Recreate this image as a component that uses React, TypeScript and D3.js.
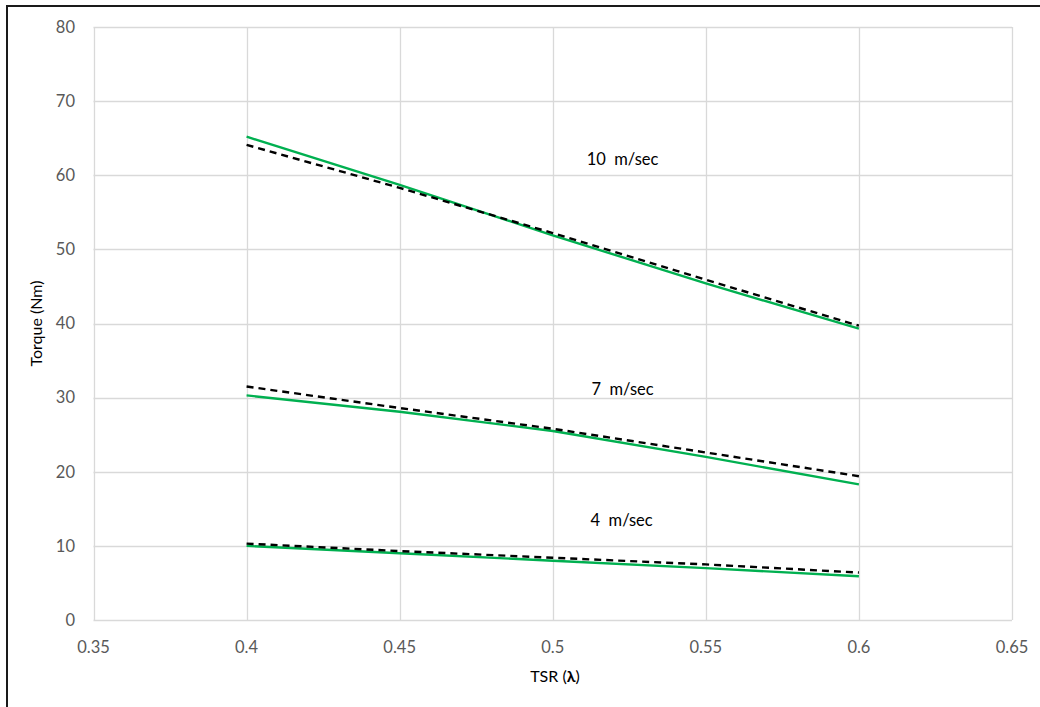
import React from "react";
import * as d3 from "d3";

const tsr = [0.4, 0.45, 0.5, 0.55, 0.6];
const green10 = [65.2, 58.7, 51.9, 45.4, 39.3];
const black10 = [64.1, 58.3, 52.2, 45.9, 39.7];
const green7 = [30.3, 28.1, 25.5, 22.0, 18.3];
const black7 = [31.5, 28.6, 25.8, 22.6, 19.4];
const green4 = [10.0, 9.0, 8.0, 7.0, 5.9];
const black4 = [10.3, 9.3, 8.4, 7.5, 6.4];
const xTicks = [0.35, 0.4, 0.45, 0.5, 0.55, 0.6, 0.65];
const yTicks = [0, 10, 20, 30, 40, 50, 60, 70, 80];
const labels = [
  { text: "10  m/sec", x: 0.5228, y: 62.2 },
  { text: "7  m/sec", x: 0.5228, y: 31.1 },
  { text: "4  m/sec", x: 0.5225, y: 13.5 },
];

const W = 1040;
const H = 707;

export default function App() {
  const x = d3.scaleLinear().domain([0.35, 0.65]).range([93.5, 1012]);
  const y = d3.scaleLinear().domain([0, 80]).range([620, 27]);
  const line = d3
    .line<[number, number]>()
    .x((d) => x(d[0]))
    .y((d) => y(d[1]));
  const mk = (vals: number[]) => line(tsr.map((t, i) => [t, vals[i]] as [number, number])) || "";
  const greens = [green10, green7, green4];
  const blacks = [black10, black7, black4];
  const font = "Lato, 'Open Sans', sans-serif";
  return (
    <svg
      width={W}
      height={H}
      style={{ position: "absolute", left: 0, top: 0, display: "block", background: "#fff" }}
    >
      <rect x={0} y={0} width={W} height={H} fill="#fff" />
      <rect x={7} y={6} width={W + 20} height={H + 20} fill="none" stroke="#1a1a1a" strokeWidth={2} />
      {yTicks.map((t) => (
        <line key={"gy" + t} x1={x(0.35)} x2={x(0.65)} y1={Math.round(y(t)) + 0.5} y2={Math.round(y(t)) + 0.5} stroke="#d9d9d9" strokeWidth={1.3} />
      ))}
      {xTicks.map((t) => (
        <line key={"gx" + t} x1={Math.round(x(t)) + 0.5} x2={Math.round(x(t)) + 0.5} y1={y(0)} y2={y(80)} stroke="#d9d9d9" strokeWidth={1.3} />
      ))}
      {yTicks.map((t) => (
        <text key={"ty" + t} x={75} y={y(t)} dy="0.35em" textAnchor="end" fontFamily={font} fontSize={16.5} fill="#595959">
          {t}
        </text>
      ))}
      {xTicks.map((t) => (
        <text key={"tx" + t} x={x(t)} y={647} dy="0.35em" textAnchor="middle" fontFamily={font} fontSize={16.5} fill="#595959">
          {String(t)}
        </text>
      ))}
      {greens.map((g, i) => (
        <path key={"g" + i} d={mk(g)} fill="none" stroke="#00b050" strokeWidth={2.4} />
      ))}
      {blacks.map((b, i) => (
        <path key={"b" + i} d={mk(b)} fill="none" stroke="#000" strokeWidth={2.4} strokeDasharray="7,5" />
      ))}
      {labels.map((l) => (
        <text key={l.text} x={x(l.x)} y={y(l.y)} dy="0.35em" textAnchor="middle" fontFamily={font} fontSize={16.5} fill="#000" style={{ whiteSpace: "pre" }}>
          {l.text}
        </text>
      ))}
      <text x={555} y={676} dy="0.35em" textAnchor="middle" fontFamily={font} fontSize={16} fill="#000">
        TSR (<tspan fontWeight="bold">λ</tspan>)
      </text>
      <text
        transform={`translate(36, ${y(40)}) rotate(-90)`}
        dy="0.35em"
        textAnchor="middle"
        fontFamily={font}
        fontSize={16}
        fill="#000"
      >
        Torque (Nm)
      </text>
    </svg>
  );
}
